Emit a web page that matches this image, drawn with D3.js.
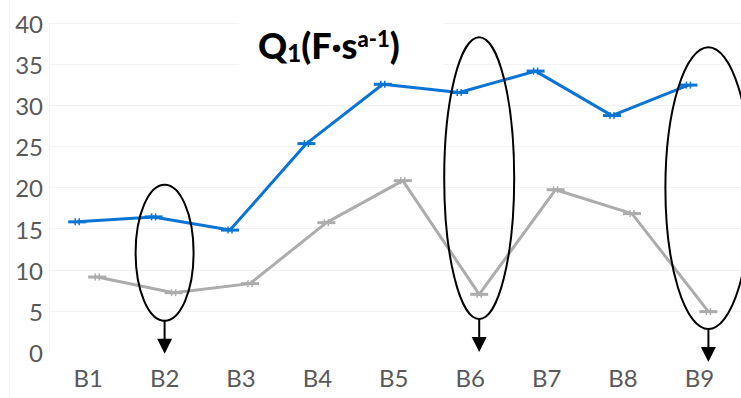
<!DOCTYPE html>
<html>
<head>
<meta charset="utf-8">
<script src="https://cdn.jsdelivr.net/npm/d3@7/dist/d3.min.js"></script>
<style>
  html, body { margin: 0; padding: 0; background: #fff; }
  svg { display: block; }
</style>
</head>
<body>
<svg id="chart" width="741" height="398"></svg>
<script>
// Categories and the two series of Q1 values
const categories = ["B1", "B2", "B3", "B4", "B5", "B6", "B7", "B8", "B9"];
const seriesBlue = [15.8, 16.4, 14.8, 25.3, 32.5, 31.5, 34.1, 28.7, 32.4];
const seriesGray = [9.1, 7.2, 8.3, 15.7, 20.8, 7.0, 19.7, 16.8, 4.9];
const yTicks = [0, 5, 10, 15, 20, 25, 30, 35, 40];

// Highlighted categories: vertical extent of each ring in value units
const markedCats = ["B2", "B6", "B9"];
const markedTop = [20.3, 38.2, 37.0];
const markedBottom = [3.8, 4.0, 2.8];

const svg = d3.select("#chart");
const W = 741, H = 398;
const font = "Lato, 'Open Sans', sans-serif";

const x = d3.scaleBand().domain(categories).range([50, 737.6]);
const y = d3.scaleLinear().domain([0, 40]).range([352, 22.5]);
const cx = c => x(c) + x.bandwidth() / 2;

// outer chart border
svg.append("rect").attr("x", 9.5).attr("y", -1).attr("width", W).attr("height", H + 2)
  .attr("fill", "none").attr("stroke", "#f5f5f5");

// horizontal gridlines
svg.append("g").selectAll("line").data(yTicks.filter(d => d > 0)).join("line")
  .attr("x1", 49).attr("x2", 741)
  .attr("y1", d => Math.round(y(d)) + 0.5).attr("y2", d => Math.round(y(d)) + 0.5)
  .attr("stroke", "#f3f3f3").attr("stroke-width", 1);

// left plot edge
svg.append("line").attr("x1", 49.5).attr("x2", 49.5).attr("y1", y(40)).attr("y2", y(0) + 1)
  .attr("stroke", "#f1f1f1");

// y axis labels
const yAxis = d3.axisLeft(y).tickValues(yTicks).tickSize(0).tickPadding(0);
const gy = svg.append("g").attr("transform", "translate(43,2)").call(yAxis);
gy.select(".domain").remove();
gy.selectAll("text").attr("font-family", font).attr("font-size", 24).attr("fill", "#595959");

// x axis labels
const xAxis = d3.axisBottom(x).tickSize(0).tickPadding(0);
const gx = svg.append("g").attr("transform", "translate(0,370)").call(xAxis);
gx.select(".domain").remove();
gx.selectAll("text").attr("font-family", font).attr("font-size", 24).attr("fill", "#595959")
  .attr("dy", "0.71em");

// series lines with dash markers
function drawSeries(values, color, dx) {
  const pts = values.map((v, i) => [cx(categories[i]) + dx, y(v)]);
  svg.append("path").datum(pts)
    .attr("d", d3.line())
    .attr("fill", "none").attr("stroke", color).attr("stroke-width", 3)
    .attr("stroke-linejoin", "round");
  const m = svg.append("g").selectAll("g").data(pts).join("g")
    .attr("transform", d => `translate(${d[0]},${d[1]})`);
  m.append("line").attr("x1", -9).attr("x2", 9).attr("y1", 0).attr("y2", 0)
    .attr("stroke", color).attr("stroke-width", 3);
  [-2, 2].forEach(ox => {
    m.append("line").attr("x1", ox).attr("x2", ox).attr("y1", -3.5).attr("y2", 3.5)
      .attr("stroke", color).attr("stroke-width", 1.5);
  });
}
drawSeries(seriesBlue, "#0A74D4", -11);
drawSeries(seriesGray, "#ACACAC", 9);

// rings with downward arrows
const ringHalfWidth = [29, 35, 43];
const ringShift = [0, 9, 9];
markedCats.forEach((c, i) => {
  const ex = cx(c) + ringShift[i];
  const yt = y(markedTop[i]), yb = y(markedBottom[i]);
  svg.append("ellipse")
    .attr("cx", ex).attr("cy", (yt + yb) / 2)
    .attr("rx", ringHalfWidth[i]).attr("ry", (yb - yt) / 2)
    .attr("fill", "none").attr("stroke", "#000").attr("stroke-width", 2);
  const tip = yb + 33;
  svg.append("line").attr("x1", ex).attr("x2", ex).attr("y1", yb).attr("y2", tip - 14)
    .attr("stroke", "#000").attr("stroke-width", 2);
  svg.append("path")
    .attr("d", `M${ex - 7.5},${tip - 15} L${ex + 7.5},${tip - 15} L${ex},${tip} Z`)
    .attr("fill", "#000");
});

// title on a white panel
svg.append("rect").attr("x", 239).attr("y", 0).attr("width", 204).attr("height", 76).attr("fill", "#fff");
const title = svg.append("text").attr("x", 258).attr("y", 59)
  .attr("font-family", font).attr("font-weight", 900).attr("font-size", 36).attr("fill", "#000");
title.append("tspan").text("Q");
title.append("tspan").attr("font-size", 24).attr("dy", 3).text("1");
title.append("tspan").attr("dy", -3).text("(F·s");
title.append("tspan").attr("font-size", 22).attr("dy", -12).text("a-1");
title.append("tspan").attr("dy", 12).text(")");
</script>
</body>
</html>
